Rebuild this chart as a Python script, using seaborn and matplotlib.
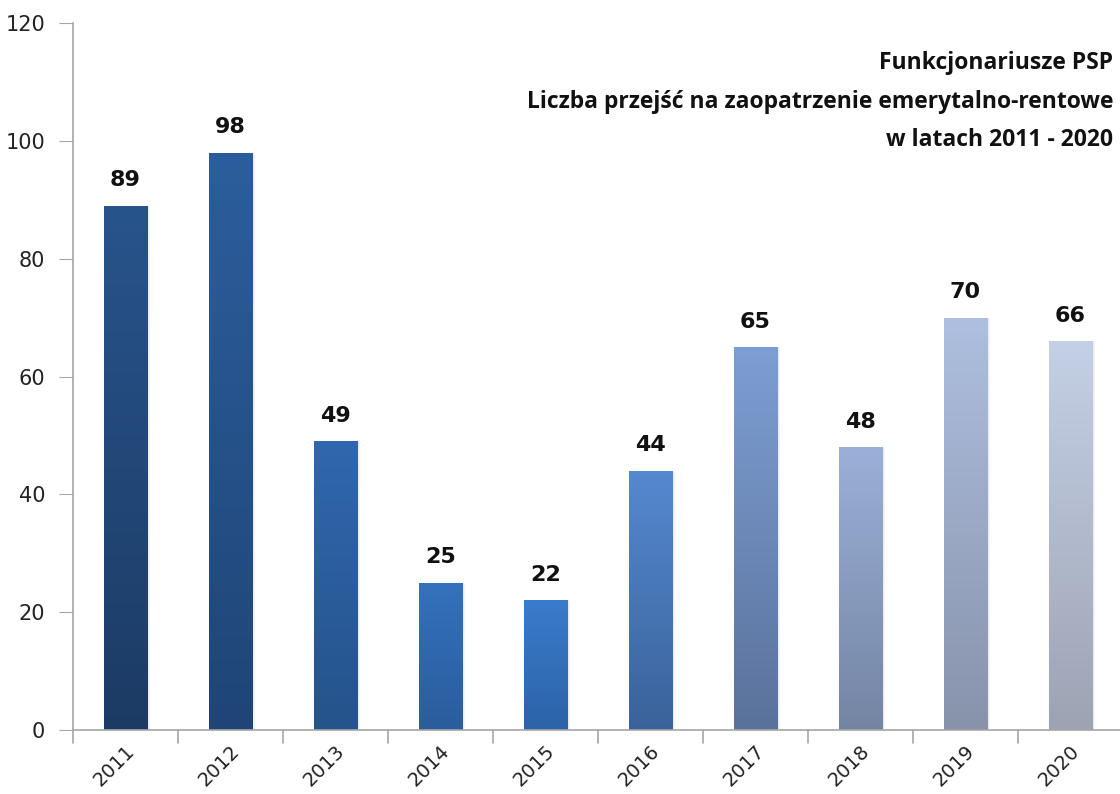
import numpy as np
import pandas as pd
import matplotlib
matplotlib.use("Agg")
import matplotlib.pyplot as plt
import seaborn as sns
from matplotlib.colors import LinearSegmentedColormap

# Data
years = ["2011", "2012", "2013", "2014", "2015", "2016", "2017", "2018", "2019", "2020"]
counts = [89, 98, 49, 25, 22, 44, 65, 48, 70, 66]

# Gradient colours per bar (top, bottom)
top_colors = ["#28548c", "#2c5e9d", "#3067ae", "#3571be", "#3a7bcb",
              "#5589d0", "#7d9ed3", "#9bb0d8", "#aebfdf", "#c4d0e6"]
bottom_colors = ["#1c3b64", "#1f4576", "#25538b", "#2a5d9c", "#2c63a8",
                 "#3a629a", "#5a729b", "#7485a3", "#8893ab", "#9ea3b3"]

title_lines = "Funkcjonariusze PSP\nLiczba przejść na zaopatrzenie emerytalno-rentowe\nw latach 2011 - 2020"

df = pd.DataFrame({"year": years, "count": counts})

sns.set_style("white")
plt.rcParams["font.family"] = ["DejaVu Sans"]

fig = plt.figure(figsize=(11.2, 7.94), dpi=100)
ax = fig.add_axes([0.065, 0.0806, 0.9375, 0.8904])

sns.barplot(data=df, x="year", y="count", color=top_colors[0], width=0.41,
            ax=ax, saturation=1)

ax.set_ylim(0, 120)
ax.set_xlim(-0.5, len(years) - 0.5)
ax.set_yticks(range(0, 121, 20))

# vertical gradient inside each bar (plus a faint shadow on the right)
for patch, c_top, c_bot in zip(ax.patches, top_colors, bottom_colors):
    x0, y0 = patch.get_x(), patch.get_y()
    w, h = patch.get_width(), patch.get_height()
    ax.bar(x0 + w / 2 + 0.02, h, width=w, bottom=y0, color="#000000",
           alpha=0.08, zorder=1.5)
    cmap = LinearSegmentedColormap.from_list("g", [c_bot, c_top])
    grad = np.linspace(0, 1, 256).reshape(-1, 1)
    im = ax.imshow(grad, cmap=cmap, aspect="auto", origin="lower",
                   extent=[x0, x0 + w, y0, y0 + h], zorder=2)
    im.set_clip_path(patch)
    patch.set_edgecolor("none")

ax.set_xlim(-0.5, len(years) - 0.5)
ax.set_ylim(0, 120)

# value labels
for i, v in enumerate(counts):
    ax.text(i, v + 2.6, str(v), ha="center", va="bottom", fontsize=16,
            fontweight="bold", color="#111111")

# axes styling
for side in ["top", "right"]:
    ax.spines[side].set_visible(False)
for side in ["left", "bottom"]:
    ax.spines[side].set_color("#a6a6a6")
    ax.spines[side].set_linewidth(1.2)

ax.set_xlabel("")
ax.set_ylabel("")
ax.tick_params(axis="y", length=10, color="#a6a6a6", labelsize=15,
               labelcolor="#222222", pad=10, left=True)
ax.tick_params(axis="x", length=0, labelsize=14, labelcolor="#222222", pad=8)
plt.setp(ax.get_xticklabels(), rotation=45, ha="right", rotation_mode="anchor")

# x ticks at category boundaries
for b in np.arange(-0.5, len(years) - 0.5, 1.0):
    ax.plot([b, b], [0, -2.2], color="#a6a6a6", lw=1.2, clip_on=False)

ax.text(0.991, 0.96, title_lines, transform=ax.transAxes, ha="right", va="top",
        fontsize=16.5, fontweight="bold", linespacing=1.8,
        family=["Open Sans", "DejaVu Sans"], color="#111111")

fig.savefig("out.png", dpi=100)
